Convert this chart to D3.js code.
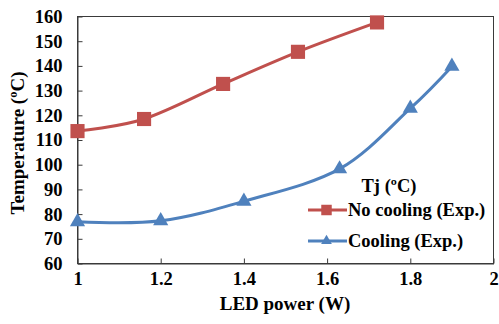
<!DOCTYPE html>
<html>
<head>
<meta charset="utf-8">
<script src="https://cdn.jsdelivr.net/npm/d3@7/dist/d3.min.js"></script>
<style>
  html, body { margin: 0; padding: 0; background: #fff; }
  svg { display: block; }
  text { font-family: "Liberation Serif", "Times New Roman", serif; font-weight: bold; fill: #000; }
</style>
</head>
<body>
<svg id="chart" width="499" height="324"></svg>
<script>
// Junction temperature vs LED power
const noCoolingPower = [1.0, 1.16, 1.35, 1.53, 1.72];
const noCoolingTemp  = [113.6, 118.5, 132.7, 145.7, 157.6];
const coolingPower   = [1.0, 1.2, 1.4, 1.63, 1.8, 1.9];
const coolingTemp    = [76.9, 77.3, 85.2, 98.3, 122.8, 139.8];
const xTicks = [1, 1.2, 1.4, 1.6, 1.8, 2];
const yTicks = [60, 70, 80, 90, 100, 110, 120, 130, 140, 150, 160];
const seriesNames = ["No cooling (Exp.)", "Cooling (Exp.)"];
const legendTitle = "Tj (\u00BAC)";

const FONT = "Liberation Serif";
const svg = d3.select("#chart");
const plotLeft = 77.5, plotRight = 493.5, plotTop = 16.5, plotBottom = 263.5;

const x = d3.scaleLinear().domain([1, 2]).range([plotLeft, plotRight]);
const y = d3.scaleLinear().domain([60, 160]).range([plotBottom, plotTop]);

// plot frame
svg.append("rect")
  .attr("x", plotLeft).attr("y", plotTop)
  .attr("width", plotRight - plotLeft).attr("height", plotBottom - plotTop)
  .attr("fill", "none").attr("stroke", "#3a3a3a").attr("stroke-width", 1);

// axes with inward ticks
const xAxis = svg.append("g").attr("transform", `translate(0,${plotBottom})`)
  .call(d3.axisBottom(x).tickValues(xTicks).tickSizeInner(-5).tickSizeOuter(0)
        .tickFormat(d => d3.format("")(d)));
xAxis.select(".domain").attr("stroke", "#3a3a3a");
xAxis.selectAll(".tick line").attr("stroke", "#3a3a3a");
xAxis.selectAll(".tick text").attr("y", 8).attr("dy", "0.71em").attr("fill", "#000")
  .style("font-size", "18.5px").style("font-family", FONT).style("font-weight", "bold");

const yAxis = svg.append("g").attr("transform", `translate(${plotLeft},0)`)
  .call(d3.axisLeft(y).tickValues(yTicks).tickSizeInner(-5).tickSizeOuter(0));
yAxis.select(".domain").attr("stroke", "#3a3a3a");
yAxis.selectAll(".tick line").attr("stroke", "#3a3a3a");
yAxis.selectAll(".tick text").attr("x", -15).attr("fill", "#000")
  .style("font-size", "18.5px").style("font-family", FONT).style("font-weight", "bold");

// axis titles
svg.append("text")
  .attr("x", 285).attr("y", 310)
  .attr("text-anchor", "middle").style("font-size", "19px")
  .text("LED power (W)");

svg.append("text")
  .attr("transform", "translate(24,143) rotate(-90)")
  .attr("text-anchor", "middle").style("font-size", "19px")
  .text("Temperature (\u00BAC)");

const line = d3.line()
  .x(d => x(d[0])).y(d => y(d[1]))
  .curve(d3.curveCardinal.tension(0));

const series = [
  { name: seriesNames[0], color: "#C0504D", marker: d3.symbolSquare, size: 200, legendSize: 110,
    data: d3.zip(noCoolingPower, noCoolingTemp) },
  { name: seriesNames[1], color: "#4F81BD", marker: d3.symbolTriangle, size: 100, legendSize: 50,
    data: d3.zip(coolingPower, coolingTemp) }
];

series.forEach(s => {
  svg.append("path").datum(s.data)
    .attr("d", line).attr("fill", "none")
    .attr("stroke", s.color).attr("stroke-width", 3);
  svg.selectAll(null).data(s.data).enter().append("path")
    .attr("transform", d => `translate(${x(d[0])},${y(d[1])})`)
    .attr("d", d3.symbol().type(s.marker).size(s.size))
    .attr("fill", s.color);
});

// legend
svg.append("text").attr("x", 389).attr("y", 192)
  .attr("text-anchor", "middle").style("font-size", "18.5px").text(legendTitle);

const legendY = [210, 241];
series.forEach((s, i) => {
  const g = svg.append("g").attr("transform", `translate(0,${legendY[i]})`);
  g.append("line").attr("x1", 308).attr("x2", 347).attr("y1", 0).attr("y2", 0)
    .attr("stroke", s.color).attr("stroke-width", 3);
  g.append("path").attr("transform", "translate(326.5,0)")
    .attr("d", d3.symbol().type(s.marker).size(s.legendSize)).attr("fill", s.color);
  g.append("text").attr("x", 348).attr("y", 0).attr("dy", "0.32em")
    .style("font-size", "18.5px").text(s.name);
});
</script>
</body>
</html>
